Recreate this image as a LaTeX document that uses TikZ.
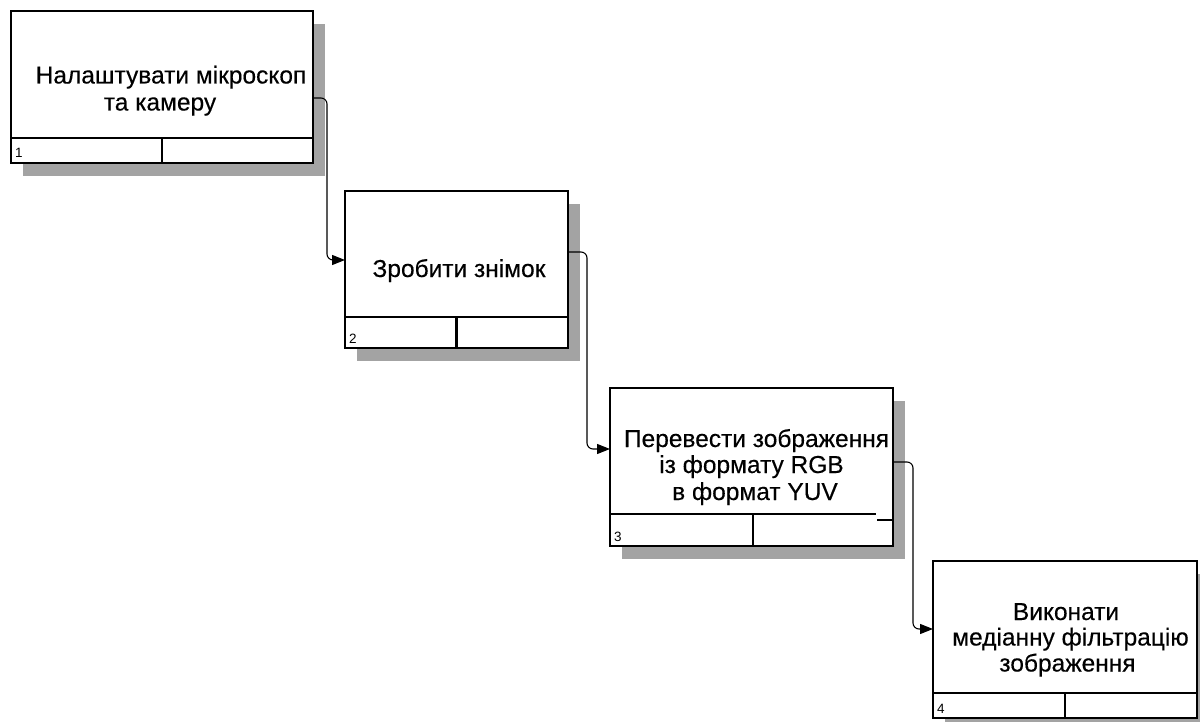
\documentclass[tikz,border=0pt]{standalone}
\usepackage{fontspec}
\setmainfont{Liberation Sans}
\newfontfamily\lblfont[FakeBold=0.35]{Liberation Sans}
\usetikzlibrary{arrows.meta,calc,backgrounds}
\begin{document}
\begin{tikzpicture}[x=1pt,y=-1pt,
  box/.style={draw=black, line width=2.5pt, fill=white, rectangle, inner sep=0pt, outer sep=0pt},
  shadowfill/.style={fill=black!36},
  divider/.style={draw=black, line width=2.2pt},
  conn/.style={draw=black, line width=1.1pt, rounded corners=6pt, -{Triangle[length=13pt,width=10pt]}},
  lbl/.style={font=\lblfont\fontsize{24.5}{26}\selectfont, anchor=base, inner sep=0pt},
  num/.style={font=\fontsize{13.5}{14}\selectfont, anchor=base west, inner sep=0pt}]
\useasboundingbox (0,0) rectangle (1200,722);

% boxes
\node[box, minimum width=302pt, minimum height=152pt] (b1) at (162,87) {};
\node[box, minimum width=223pt, minimum height=157pt] (b2) at (456.5,269.5) {};
\node[box, minimum width=283pt, minimum height=158pt] (b3) at (751.5,467) {};
\node[box, minimum width=264pt, minimum height=157pt] (b4) at (1065,639.5) {};

% shadows
\begin{scope}[on background layer]
  \foreach \b in {b1,b2,b3,b4}
    \fill[shadowfill] ([shift={(12,13)}]\b.north west) rectangle ([shift={(12,13)}]\b.south east);
\end{scope}

% dividers
\draw[divider] ([yshift=25pt]b1.south west) -- ([yshift=25pt]b1.south east);
\draw[divider] ([yshift=25pt]b1.south) -- (b1.south);
\draw[divider] ([yshift=31pt]b2.south west) -- ([yshift=31pt]b2.south east);
\draw[divider] ([yshift=31pt]b2.south) -- (b2.south);
\draw[divider] ([yshift=32pt]b3.south west) -- ([xshift=-17pt,yshift=32pt]b3.south east);
\draw[divider] ([xshift=-16pt,yshift=26pt]b3.south east) -- ([yshift=26pt]b3.south east);
\draw[divider] ([xshift=1.5pt,yshift=32pt]b3.south) -- ([xshift=1.5pt]b3.south);
\draw[divider] ([yshift=25pt]b4.south west) -- ([yshift=25pt]b4.south east);
\draw[divider] ([yshift=25pt]b4.south) -- (b4.south);

% numbers
\node[num] (n1) at ([xshift=4pt,yshift=5pt]b1.south west) {1};
\node[num] (n2) at ([xshift=4pt,yshift=5pt]b2.south west) {2};
\node[num] (n3) at ([xshift=4pt,yshift=5pt]b3.south west) {3};
\node[num] (n4) at ([xshift=4pt,yshift=5pt]b4.south west) {4};

% labels
\node[lbl] (t1a) at (171,83.5) {Налаштувати мікроскоп};
\node[lbl] (t1b) at (160,110.5) {та камеру};
\node[lbl] (t2a) at (459,277) {Зробити знімок};
\node[lbl] (t3a) at (756.5,447) {Перевести зображення};
\node[lbl] (t3b) at (751.5,473) {із формату RGB};
\node[lbl] (t3c) at (755,500) {в формат YUV};
\node[lbl] (t4a) at (1066,620) {Виконати};
\node[lbl] (t4b) at (1070.5,645.5) {медіанну фільтрацію};
\node[lbl] (t4c) at (1067.5,671.5) {зображення};

% connectors
\draw[conn] ([yshift=-11pt]b1.east) -- ++(14,0) |- ([yshift=9.5pt]b2.west);
\draw[conn] ([yshift=17.5pt]b2.east) -- ++(19,0) |- ([yshift=18pt]b3.west);
\draw[conn] ([yshift=5pt]b3.east) -- ++(20,0) |- ([yshift=10.5pt]b4.west);
\end{tikzpicture}
\end{document}
